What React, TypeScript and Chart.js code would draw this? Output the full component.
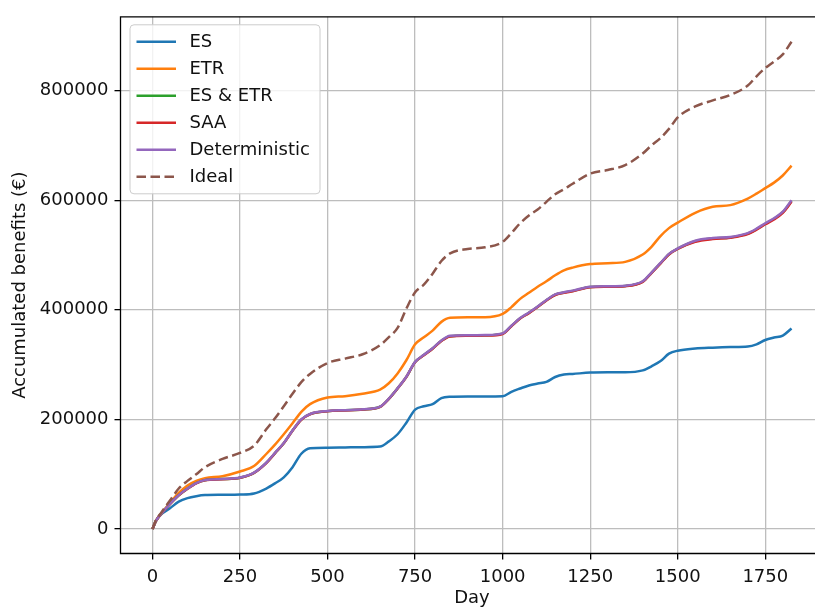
import React, { useEffect, useRef } from "react";
import { Chart, registerables } from "chart.js";

Chart.register(...registerables);

const days = [0, 10, 25, 50, 75, 100, 125, 150, 200, 250, 290, 325, 350, 375, 400, 425, 450, 500, 550, 600, 650, 675, 700, 725, 750, 775, 800, 825, 850, 900, 950, 1000, 1025, 1050, 1075, 1100, 1125, 1150, 1175, 1200, 1250, 1300, 1350, 1400, 1425, 1450, 1475, 1500, 1550, 1600, 1650, 1700, 1725, 1750, 1775, 1800, 1825];

const es = [0, 15000, 27000, 38000, 50000, 56500, 60000, 62000, 62500, 63000, 65000, 74000, 83500, 94500, 113000, 137500, 147500, 148500, 149000, 149500, 150500, 160000, 173000, 194000, 218000, 224000, 228000, 239000, 241500, 242000, 242000, 242500, 250500, 256500, 262000, 265500, 268500, 277500, 282000, 283000, 285500, 286000, 286000, 289500, 297000, 306000, 320000, 325500, 329500, 331000, 332000, 333000, 337000, 345000, 349500, 353000, 366000];

const etr = [0, 15000, 28000, 48000, 66000, 79500, 88000, 93000, 96500, 105000, 115000, 137000, 154000, 173000, 193000, 214000, 228000, 240000, 242500, 247000, 254500, 266000, 284000, 308000, 337000, 350000, 362000, 378000, 385500, 386500, 386500, 392500, 405000, 420000, 431000, 442000, 452000, 463000, 472000, 477000, 483500, 485000, 487500, 501000, 515000, 534000, 549000, 559000, 577000, 588000, 591000, 603000, 612000, 622000, 632000, 645000, 663000];

const esEtr = [0, 15000, 28000, 45800, 61800, 73800, 83700, 89200, 91200, 93700, 102700, 120700, 138700, 156700, 179700, 199700, 209700, 215200, 216700, 218200, 223200, 237700, 256700, 277700, 304700, 317500, 329500, 343500, 352000, 353000, 353500, 356500, 370500, 384500, 394500, 405500, 417500, 427500, 431500, 434500, 441500, 442500, 443500, 451500, 467500, 484500, 501500, 511500, 525000, 530000, 532000, 539000, 547000, 557000, 566000, 578000, 598500];

const saa = [0, 15000, 28000, 45500, 61500, 73500, 83500, 89000, 91000, 93500, 102500, 120500, 138500, 156500, 179500, 199500, 209500, 215000, 216500, 218000, 223000, 237500, 256500, 277500, 304500, 317000, 329000, 343000, 351500, 352500, 353000, 356000, 370000, 384000, 394000, 405000, 417000, 427000, 431000, 434000, 441000, 442000, 443000, 451000, 467000, 484000, 501000, 511000, 524000, 529000, 531500, 538000, 546000, 556000, 565000, 577000, 597000];

const deterministic = [0, 15000, 28000, 46000, 62000, 74000, 84000, 89500, 91500, 94000, 103000, 121000, 139000, 157000, 180000, 200000, 210000, 215500, 217000, 218500, 223500, 238000, 257000, 278000, 305000, 318000, 330000, 344000, 352500, 353500, 354000, 357000, 371000, 385000, 395000, 406000, 418000, 428000, 432000, 435000, 442000, 443000, 444000, 452000, 468000, 485000, 502000, 512000, 526000, 531000, 533000, 540000, 548000, 558000, 567000, 579000, 600000];

const ideal = [0, 16000, 30000, 52000, 74000, 88000, 100000, 113000, 128000, 139000, 152000, 182000, 202000, 224000, 247000, 268000, 283000, 303000, 311000, 319000, 335500, 350000, 367000, 402000, 432000, 446000, 466000, 489000, 503000, 511000, 514000, 524000, 540000, 558000, 572000, 583000, 597000, 611000, 620000, 630000, 648500, 655000, 664000, 685000, 700000, 713000, 730000, 751000, 771000, 782000, 792000, 809000, 826000, 841000, 853000, 866000, 889000];

const seriesNames = ["ES", "ETR", "ES & ETR", "SAA", "Deterministic", "Ideal"];
const seriesValues = [es, etr, esEtr, saa, deterministic, ideal];
const seriesColors = ["#1f77b4", "#ff7f0e", "#2ca02c", "#d62728", "#9467bd", "#8c564b"];

const xTicks = [0, 250, 500, 750, 1000, 1250, 1500, 1750];
const yTicks = [0, 200000, 400000, 600000, 800000];

const FONT = "'DejaVu Sans', sans-serif";

const framePlugin = {
  id: "frame",
  afterDatasetsDraw(chart: any) {
    const { ctx, chartArea: a } = chart;
    ctx.save();
    ctx.strokeStyle = "#000";
    ctx.lineWidth = 1.3;
    ctx.beginPath();
    ctx.moveTo(a.right + 5, a.top);
    ctx.lineTo(a.left, a.top);
    ctx.lineTo(a.left, a.bottom);
    ctx.lineTo(a.right + 5, a.bottom);
    ctx.stroke();
    ctx.restore();
  },
};

const legendPlugin = {
  id: "mplLegend",
  afterDraw(chart: any) {
    const { ctx, chartArea: a } = chart;
    const x0 = a.left + 9.5;
    const y0 = a.top + 8;
    const w = 190;
    const h = 169;
    const r = 4;
    ctx.save();
    ctx.beginPath();
    ctx.moveTo(x0 + r, y0);
    ctx.lineTo(x0 + w - r, y0);
    ctx.arcTo(x0 + w, y0, x0 + w, y0 + r, r);
    ctx.lineTo(x0 + w, y0 + h - r);
    ctx.arcTo(x0 + w, y0 + h, x0 + w - r, y0 + h, r);
    ctx.lineTo(x0 + r, y0 + h);
    ctx.arcTo(x0, y0 + h, x0, y0 + h - r, r);
    ctx.lineTo(x0, y0 + r);
    ctx.arcTo(x0, y0, x0 + r, y0, r);
    ctx.closePath();
    ctx.fillStyle = "rgba(255,255,255,0.8)";
    ctx.fill();
    ctx.strokeStyle = "#cccccc";
    ctx.lineWidth = 1;
    ctx.stroke();

    ctx.font = `18px ${FONT}`;
    ctx.textBaseline = "middle";
    ctx.textAlign = "left";
    chart.data.datasets.forEach((ds: any, i: number) => {
      const cy = y0 + 17 + i * 27;
      ctx.beginPath();
      ctx.strokeStyle = ds.borderColor;
      ctx.lineWidth = 2.5;
      ctx.setLineDash(ds.borderDash || []);
      ctx.moveTo(x0 + 6.5, cy);
      ctx.lineTo(x0 + 46, cy);
      ctx.stroke();
      ctx.setLineDash([]);
      ctx.fillStyle = "#111";
      ctx.fillText(ds.label, x0 + 59.5, cy + 1);
    });
    ctx.restore();
  },
};

export default function App() {
  const ref = useRef<HTMLCanvasElement | null>(null);

  useEffect(() => {
    if (!ref.current) return;
    const datasets = seriesNames.map((name, i) => ({
      label: name,
      data: days.map((d, j) => ({ x: d, y: seriesValues[i][j] })),
      borderColor: seriesColors[i],
      backgroundColor: seriesColors[i],
      borderWidth: 2.5,
      borderDash: name === "Ideal" ? [9.5, 4.5] : [],
      pointRadius: 0,
      cubicInterpolationMode: "monotone" as const,
      fill: false,
      order: seriesNames.length - i,
    }));

    const chart = new Chart(ref.current, {
      type: "line",
      data: { datasets },
      options: {
        animation: false,
        responsive: false,
        layout: { padding: { left: 0, top: 11, right: 21.5, bottom: 0 } },
        plugins: {
          legend: { display: false },
          tooltip: { enabled: false },
        },
        scales: {
          x: {
            type: "linear",
            min: -91.25,
            max: 1916.25,
            afterFit: (s: any) => {
              s.height = 55.5;
            },
            afterBuildTicks: (s: any) => {
              s.ticks = xTicks.map((v) => ({ value: v }));
            },
            ticks: {
              padding: 7,
              color: "#111",
              font: { family: FONT, size: 18 },
              maxRotation: 0,
              autoSkip: false,
              callback: (v: any) => String(v),
            },
            grid: {
              color: "#bdbdbd",
              lineWidth: 1.3,
              tickColor: "#000",
              tickLength: 6,
              tickWidth: 1.3,
            },
            border: { display: false },
            title: {
              display: true,
              text: "Day",
              color: "#111",
              font: { family: FONT, size: 18 },
              padding: { top: 0, bottom: 0 },
            },
          },
          y: {
            type: "linear",
            min: -44500,
            max: 934500,
            afterFit: (s: any) => {
              s.width = 120.5;
            },
            afterBuildTicks: (s: any) => {
              s.ticks = yTicks.map((v) => ({ value: v }));
            },
            ticks: {
              padding: 6,
              color: "#111",
              autoSkip: false,
              font: { family: FONT, size: 18 },
              callback: (v: any) => String(v),
            },
            grid: {
              color: "#bdbdbd",
              lineWidth: 1.3,
              tickColor: "#000",
              tickLength: 6,
              tickWidth: 1.3,
            },
            border: { display: false },
            title: {
              display: true,
              text: "Accumulated benefits (€)",
              color: "#111",
              font: { family: FONT, size: 18 },
              padding: { top: 9.5, bottom: 0 },
            },
          },
        },
      },
      plugins: [framePlugin, legendPlugin],
    });
    return () => chart.destroy();
  }, []);

  return (
    <div
      style={{
        position: "fixed",
        left: 0,
        top: 0,
        width: 815,
        height: 609,
        overflow: "hidden",
        background: "#fff",
      }}
    >
      <canvas ref={ref} width={845} height={609} style={{ display: "block" }} />
    </div>
  );
}
